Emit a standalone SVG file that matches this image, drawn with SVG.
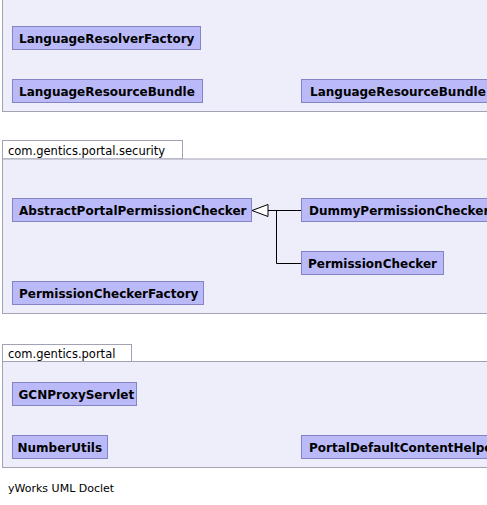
<svg xmlns="http://www.w3.org/2000/svg" width="487" height="505" viewBox="0 0 487 505">
<style>
.pkg{fill:#eeeefb;stroke:#a2a2b4;stroke-width:1}
.tab{fill:#ffffff;stroke:#a2a2b4;stroke-width:1}
.node{fill:#babaf8;stroke:#8484c4;stroke-width:1}
.lbl{font-family:"DejaVu Sans",sans-serif;font-weight:bold;font-size:12px;fill:#000}
.ptxt{font-family:"DejaVu Sans",sans-serif;font-size:11.5px;fill:#000}
.foot{font-family:"DejaVu Sans",sans-serif;font-size:11px;fill:#000}
.edge{fill:none;stroke:#000;stroke-width:1}
</style>
<rect width="487" height="505" fill="#ffffff"/>
<g id="pkg-top">
<rect class="pkg" x="2.5" y="-5" width="490" height="116.5"/>
</g>
<g id="pkg-security">
<rect class="tab" x="2.5" y="140.5" width="180" height="18.5"/>
<text class="ptxt" x="8" y="154.5">com.gentics.portal.security</text>
<rect class="pkg" x="2.5" y="159" width="490" height="154.5"/>
</g>
<g id="pkg-portal">
<rect class="tab" x="2.5" y="344.5" width="129" height="17"/>
<text class="ptxt" x="8" y="358">com.gentics.portal</text>
<rect class="pkg" x="2.5" y="361.5" width="490" height="106"/>
</g>
<g id="LanguageResolverFactory">
<rect class="node" x="12.5" y="26.5" width="188" height="23"/>
<text class="lbl" x="19" y="42.5">LanguageResolverFactory</text>
</g>
<g id="LanguageResourceBundle">
<rect class="node" x="12.5" y="79.5" width="190" height="23"/>
<text class="lbl" x="19" y="95.5">LanguageResourceBundle</text>
</g>
<g id="LanguageResourceBundle2">
<rect class="node" x="301.5" y="79.5" width="200" height="23"/>
<text class="lbl" x="310" y="95.5">LanguageResourceBundle</text>
</g>
<g id="AbstractPortalPermissionChecker">
<rect class="node" x="12.5" y="198.5" width="239" height="23"/>
<text class="lbl" x="19" y="214.5">AbstractPortalPermissionChecker</text>
</g>
<g id="DummyPermissionChecker">
<rect class="node" x="301.5" y="198.5" width="200" height="23"/>
<text class="lbl" x="309" y="214.5">DummyPermissionChecker</text>
</g>
<g id="PermissionChecker">
<rect class="node" x="301.5" y="251.5" width="142" height="23"/>
<text class="lbl" x="308" y="267.5">PermissionChecker</text>
</g>
<g id="PermissionCheckerFactory">
<rect class="node" x="12.5" y="281.5" width="191" height="23"/>
<text class="lbl" x="19" y="297.5">PermissionCheckerFactory</text>
</g>
<g id="GCNProxyServlet">
<rect class="node" x="12.5" y="382.5" width="124" height="23"/>
<text class="lbl" x="18.5" y="398.5">GCNProxyServlet</text>
</g>
<g id="NumberUtils">
<rect class="node" x="12.5" y="435.5" width="95" height="23"/>
<text class="lbl" x="17.5" y="451.5">NumberUtils</text>
</g>
<g id="PortalDefaultContentHelper">
<rect class="node" x="301.5" y="435.5" width="210" height="23"/>
<text class="lbl" x="309" y="451.5">PortalDefaultContentHelper</text>
</g>
<g id="connectors">
<path class="edge" d="M301 210.5 H268"/>
<path class="edge" d="M301 263.5 H276.5 V210.5"/>
<polygon points="252,210.5 268,204.5 268,216.5" fill="#ffffff" stroke="#000" stroke-width="1"/>
</g>
<text class="foot" x="8" y="492">yWorks UML Doclet</text>
</svg>
